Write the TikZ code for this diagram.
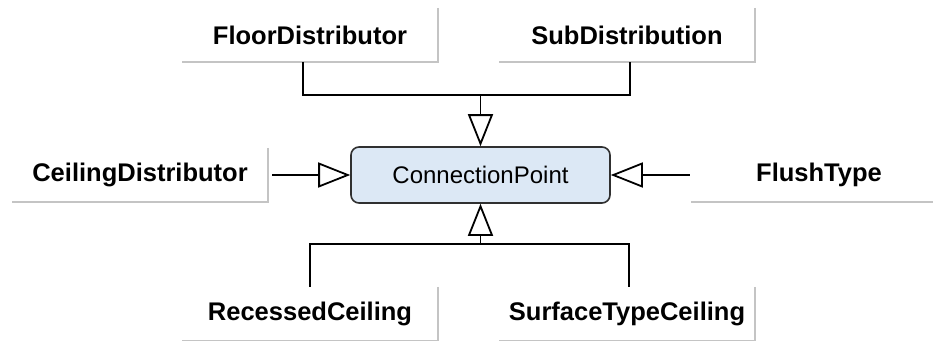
\documentclass[tikz,border=0pt]{standalone}
\usepackage{fontspec}
\setmainfont{Liberation Sans}
\usetikzlibrary{arrows.meta}
\definecolor{cpfill}{HTML}{DCE8F5}
\definecolor{cpline}{HTML}{303030}
\definecolor{edgegray}{HTML}{C4C4C4}
\tikzset{
  classbox/.style={minimum width=256pt, minimum height=54pt, inner sep=0pt,
    font=\fontsize{25.5}{30}\selectfont\bfseries},
  mainbox/.style={draw=cpline, fill=cpfill, line width=1.6pt, rounded corners=8pt,
    minimum width=259pt, minimum height=56pt, inner sep=0pt,
    font=\fontsize{24}{28}\selectfont},
  wire/.style={line width=1.8pt, black},
  inherit/.style={wire, -{Triangle[open, length=32pt, width=25pt, line width=1.8pt]}},
  edgeline/.style={edgegray, line width=2pt}
}
\newcommand{\shadowedges}[1]{%
  \draw[edgeline] (#1.north east) -- (#1.south east) -- (#1.south west);}
\begin{document}
\begin{tikzpicture}[x=1pt, y=-1pt]
  \useasboundingbox (0,0) rectangle (933,340);
  \clip (0,0) rectangle (933,340);
  \fill[white] (0,0) rectangle (933,340);

  % central class
  \node[mainbox] (cp) at (480.5,175) {ConnectionPoint};

  % surrounding classes
  \node[classbox] (fd) at (310,35)  {FloorDistributor};
  \node[classbox] (sd) at (627,35)  {SubDistribution};
  \node[classbox] (cd) at (140,175) {CeilingDistributor};
  \node[classbox] (ft) at (819,175) {FlushType};
  \node[classbox] (rc) at (310,314) {RecessedCeiling};
  \node[classbox] (st) at (627,314) {SurfaceTypeCeiling};

  \foreach \n in {fd,sd,cd,ft,rc,st} {\shadowedges{\n}}

  % junction points of the shared generalisation lines
  \coordinate (topj) at (cp.north |- 0,95);
  \coordinate (botj) at (cp.south |- 0,244);

  % upper pair
  \draw[wire] ([xshift=-7pt]fd.south) |- (topj) -| ([xshift=3pt]sd.south);
  \draw[inherit] (topj) -- (cp.north);

  % lower pair
  \draw[wire] (rc.north) |- (botj) -| ([xshift=2pt]st.north);
  \draw[inherit] (botj) -- (cp.south);

  % side classes
  \draw[inherit] ([xshift=4pt]cd.east) -- (cp.west);
  \draw[inherit] ([xshift=-1pt]ft.west) -- (cp.east);
\end{tikzpicture}
\end{document}
